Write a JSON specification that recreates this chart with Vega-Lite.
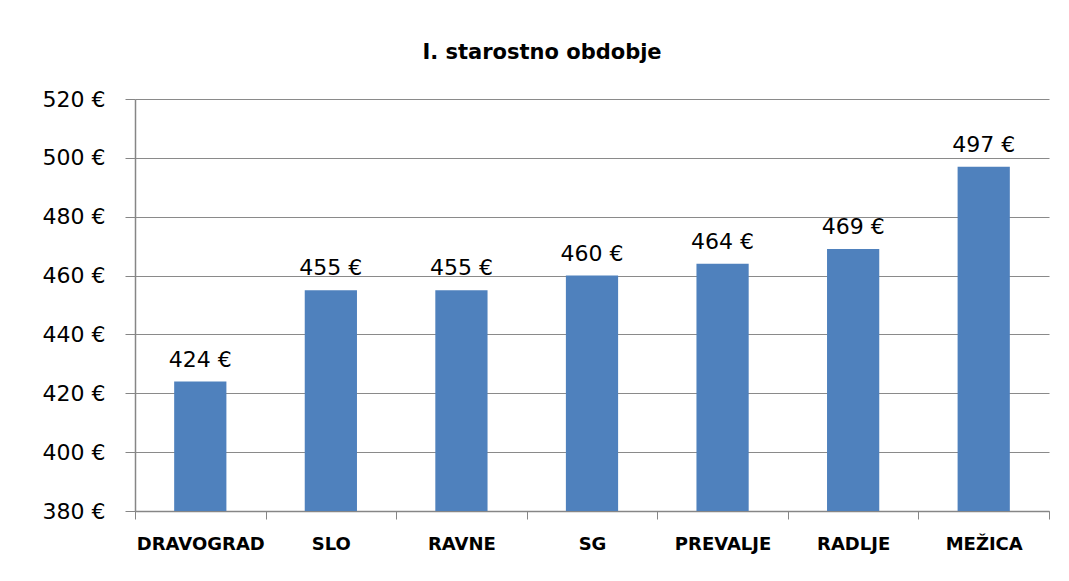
{
  "$schema": "https://vega.github.io/schema/vega-lite/v6.json",
  "width": 914,
  "height": 412,
  "autosize": {"type": "none"},
  "padding": {"left": 135, "top": 99, "right": 20, "bottom": 70},
  "background": "white",
  "title": {
    "text": "I. starostno obdobje",
    "font": "DejaVu Sans",
    "fontSize": 21,
    "fontWeight": "bold",
    "color": "#000000",
    "anchor": "middle",
    "frame": "group",
    "baseline": "alphabetic",
    "offset": 8,
    "dx": -50
  },
  "config": {
    "view": {"stroke": null},
    "font": "DejaVu Sans"
  },
  "data": {
    "values": [
      {"region": "DRAVOGRAD", "value": 424},
      {"region": "SLO", "value": 455},
      {"region": "RAVNE", "value": 455},
      {"region": "SG", "value": 460},
      {"region": "PREVALJE", "value": 464},
      {"region": "RADLJE", "value": 469},
      {"region": "MEŽICA", "value": 497}
    ]
  },
  "transform": [{"calculate": "datum.value + ' €'", "as": "label"}],
  "encoding": {
    "x": {
      "field": "region",
      "type": "nominal",
      "sort": null,
      "scale": {"paddingInner": 0, "paddingOuter": 0},
      "axis": {
        "title": null,
        "labelAngle": 0,
        "labelFont": "DejaVu Sans",
        "labelFontSize": 18,
        "labelFontWeight": "bold",
        "labelColor": "#000000",
        "labelPadding": 16,
        "tickBand": "extent",
        "tickSize": 8,
        "tickColor": "#868686",
        "domainColor": "#868686",
        "domainWidth": 1.5
      }
    },
    "y": {
      "field": "value",
      "type": "quantitative",
      "scale": {"domain": [380, 520], "zero": false, "nice": false},
      "axis": {
        "title": null,
        "values": [380, 400, 420, 440, 460, 480, 500, 520],
        "labelExpr": "datum.value + ' €'",
        "labelFont": "DejaVu Sans",
        "labelFontSize": 22,
        "labelColor": "#000000",
        "labelPadding": 20,
        "tickSize": 10,
        "tickColor": "#868686",
        "domainColor": "#868686",
        "domainWidth": 1.5,
        "grid": true,
        "gridColor": "#8a8a8a",
        "gridWidth": 1.2,
        "gridOpacity": 1
      }
    }
  },
  "layer": [
    {
      "mark": {"type": "bar", "color": "#4F81BD", "clip": true, "width": {"band": 0.4}}
    },
    {
      "mark": {
        "type": "text",
        "font": "DejaVu Sans",
        "fontSize": 22,
        "color": "#000000",
        "baseline": "alphabetic",
        "dy": -15
      },
      "encoding": {"text": {"field": "label"}}
    }
  ]
}
